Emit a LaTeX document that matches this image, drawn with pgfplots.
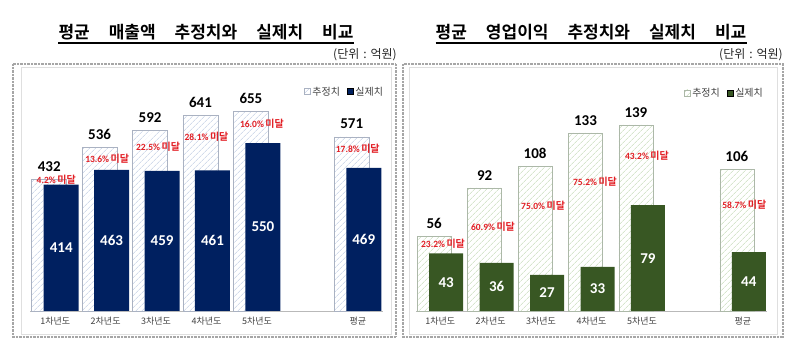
\documentclass[border=0pt]{standalone}
\usepackage{fontspec}
\setmainfont{Noto Sans CJK KR}[BoldFont={Noto Sans CJK KR Bold}]
\newfontfamily\carlito{Carlito}
\usepackage{pgfplots}
\pgfplotsset{compat=1.18}
\usetikzlibrary{patterns.meta}
\definecolor{navy}{RGB}{0,32,96}
\definecolor{dgreen}{RGB}{56,87,35}
\definecolor{hatchL}{RGB}{186,200,224}
\definecolor{hatchR}{RGB}{192,215,178}
\definecolor{bordL}{RGB}{170,178,194}
\definecolor{bordR}{RGB}{172,184,168}
\definecolor{pctred}{RGB}{226,30,36}
\definecolor{txtgray}{RGB}{64,64,64}
\protected\def\pct#1{{\carlito\bfseries\fontsize{9.5}{10}\selectfont #1\%}\hspace{1.5pt}{\bfseries\fontsize{10}{10}\selectfont 미달}}
\pgfplotsset{
  mybase/.style={
    scale only axis, height=241pt, ymin=0,
    ybar,
    axis x line=bottom, axis y line=none,
    x axis line style={-, draw=gray!55, line width=0.8pt},
    xtick={0,1,2,3,4,6},
    xticklabels={1차년도,2차년도,3차년도,4차년도,5차년도,평균},
    major tick length=0pt,
    xticklabel style={font=\fontsize{9}{10}\selectfont, text=txtgray, yshift=-3pt},
    /pgf/number format/assume math mode=true,
    legend style={draw=none, fill=none, font=\fontsize{10}{12}\selectfont, text=txtgray, legend columns=2, /tikz/every even column/.append style={column sep=5pt}},
    clip=false,
  },
  legsq/.style={legend image code/.code={\draw[##1] (0pt,-3pt) rectangle (6pt,3pt);}},
  estlabel/.style={nodes near coords, nodes near coords style={font=\carlito\bfseries\fontsize{15}{15}\selectfont, text=black, inner sep=0pt, yshift=7.5pt}},
  actlabel/.style={forget plot, draw=none, fill=none, nodes near coords, point meta=explicit symbolic, nodes near coords style={anchor=center, text=white, font=\carlito\bfseries\fontsize{15}{15}\selectfont}},
  pctlabel/.style={forget plot, draw=none, fill=none, bar shift=0pt, nodes near coords={\pct{\pgfplotspointmeta}}, point meta=explicit symbolic, nodes near coords style={anchor=center, text=pctred, inner sep=0.5pt}},
}
\begin{document}
\begin{tikzpicture}[x=1pt,y=1pt]
\path (0,0) rectangle (800,358);
% frames
\draw[gray!70, line width=1.1pt, dash pattern=on 0.7pt off 0.7pt] (13,294) rectangle (396,21);
\draw[gray!25, line width=0.6pt] (21,291) rectangle (391,24);
\draw[gray!70, line width=1.1pt, dash pattern=on 0.7pt off 0.7pt] (403,294) rectangle (783,21);
\draw[gray!25, line width=0.6pt] (409,291) rectangle (777,24);
% titles
\node[font=\bfseries\fontsize{17}{19}\selectfont, inner xsep=0pt] (t1) at (206,326) {평균\hspace{19pt}매출액\hspace{19pt}추정치와\hspace{19pt}실제치\hspace{19pt}비교};
\draw[line width=1.2pt] (t1.west |- 0,315) -- (t1.east |- 0,315);
\node[font=\bfseries\fontsize{17}{19}\selectfont, inner xsep=0pt] (t2) at (591,326) {평균\hspace{19pt}영업이익\hspace{19pt}추정치와\hspace{19pt}실제치\hspace{19pt}비교};
\draw[line width=1.2pt] (t2.west |- 0,315) -- (t2.east |- 0,315);
\node[anchor=east, font=\fontsize{12}{13}\selectfont, text=black!85, inner xsep=0pt] at (397,303) {(단위\hspace{4pt}:\hspace{4pt}억원)};
\node[anchor=east, font=\fontsize{12}{13}\selectfont, text=black!85, inner xsep=0pt] at (783,303) {(단위\hspace{4pt}:\hspace{4pt}억원)};

\begin{axis}[mybase, at={(30pt,47pt)}, anchor=south west, width=353pt, xmin=-0.5, xmax=6.5, ymax=790, bar width=35pt,
  legend style={at={(axis description cs:1.015,0.91)}, anchor=east}]
\addplot[draw=bordL, line width=0.5pt, pattern={Lines[angle=45,distance=4pt,line width=0.6pt]}, pattern color=hatchL, bar shift=-6pt, estlabel, legsq]
  coordinates {(0,432)(1,536)(2,592)(3,641)(4,655)(6,571)};
\addlegendentry{추정치}
\addplot[draw=none, fill=navy, bar shift=6pt, legsq]
  coordinates {(0,414)(1,463)(2,459)(3,461)(4,550)(6,469)};
\addlegendentry{실제치}
\addplot[actlabel, bar shift=6pt] coordinates {(0,207)[414] (1,231.5)[463] (2,229.5)[459] (3,230.5)[461] (4,275)[550] (6,234.5)[469]};
\addplot[pctlabel] coordinates {(0.02,429)[4.2] (1.03,498)[13.6] (2.04,537)[22.5] (3.00,570)[28.1] (4.10,613)[16.0] (6.00,531)[17.8]};
\end{axis}

\begin{axis}[mybase, at={(416pt,47pt)}, anchor=south west, width=351pt, xmin=-0.48, xmax=6.48, ymax=180, bar width=34pt,
  legend style={at={(axis description cs:1.003,0.905)}, anchor=east}]
\addplot[draw=bordR, line width=0.5pt, pattern={Lines[angle=45,distance=4pt,line width=0.6pt]}, pattern color=hatchR, bar shift=-6pt, estlabel, legsq]
  coordinates {(0,56)(1,92)(2,108)(3,133)(4,139)(6,106)};
\addlegendentry{추정치}
\addplot[draw=none, fill=dgreen, bar shift=6pt, legsq]
  coordinates {(0,43)(1,36)(2,27)(3,33)(4,79)(6,44)};
\addlegendentry{실제치}
\addplot[actlabel, bar shift=6pt] coordinates {(0,21.5)[43] (1,18)[36] (2,13.5)[27] (3,16.5)[33] (4,39.5)[79] (6,22)[44]};
\addplot[pctlabel] coordinates {(0.056,50)[23.2] (1.047,62.7)[60.9] (2.04,78.4)[75.0] (3.07,96.3)[75.2] (4.10,115.8)[43.2] (6.03,79.2)[58.7]};
\end{axis}
\end{tikzpicture}
\end{document}
